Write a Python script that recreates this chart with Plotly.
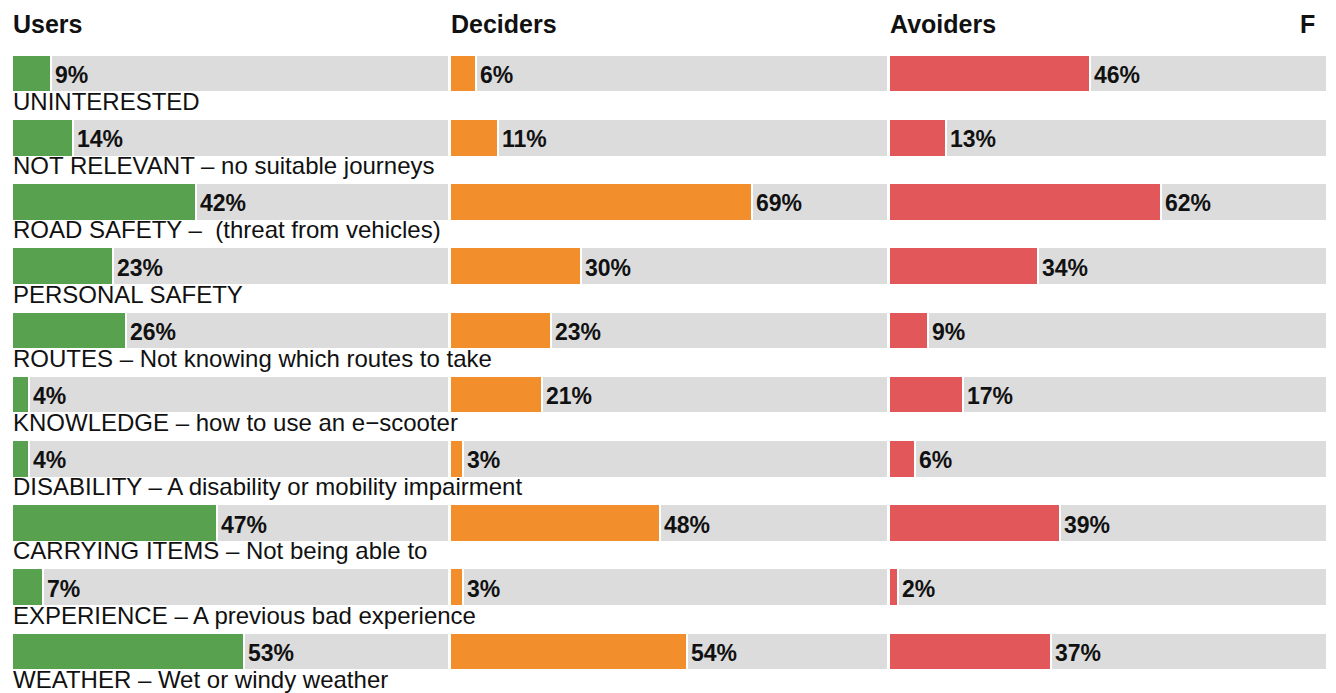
"""Reasons for not using e-scooters, by segment: three stacked-percentage panels."""

import plotly.graph_objects as go

# 데이터: 행 순서는 위에서 아래로
REASONS = [
    "UNINTERESTED",
    "NOT RELEVANT – no suitable journeys",
    "ROAD SAFETY –  (threat from vehicles)",
    "PERSONAL SAFETY",
    "ROUTES – Not knowing which routes to take",
    "KNOWLEDGE – how to use an e−scooter",
    "DISABILITY – A disability or mobility impairment",
    "CARRYING ITEMS – Not being able to",
    "EXPERIENCE – A previous bad experience",
    "WEATHER – Wet or windy weather",
]
SEGMENTS = ["Users", "Deciders", "Avoiders"]
USERS = [9, 14, 42, 23, 26, 4, 4, 47, 7, 53]
DECIDERS = [6, 11, 69, 30, 23, 21, 3, 48, 3, 54]
AVOIDERS = [46, 13, 62, 34, 9, 17, 6, 39, 2, 37]

COLORS = ["#58a14e", "#f28e2b", "#e1575a"]
TRACK = "#dcdcdc"
FONT = "Liberation Sans, Arial, Helvetica, sans-serif"

W, H = 1336, 693
ROW_TOP = 73.5      # px, centre of the first bar
ROW_PITCH = 64.22   # px between bars
PANELS = [(12, 449), (450, 888), (889, 1327)]  # px left/right of each panel

rows = list(range(len(REASONS)))
fig = go.Figure()

for k, (name, values) in enumerate(zip(SEGMENTS, [USERS, DECIDERS, AVOIDERS])):
    xa = "x" if k == 0 else f"x{k + 1}"
    fig.add_trace(go.Bar(
        x=values, y=rows, orientation="h", xaxis=xa, yaxis="y",
        width=0.585, marker=dict(color=COLORS[k], line=dict(color="white", width=2.5)),
        hoverinfo="skip", showlegend=False,
    ))
    fig.add_trace(go.Bar(
        x=[100 - v for v in values], y=rows, orientation="h", xaxis=xa, yaxis="y",
        width=0.585, marker=dict(color=TRACK, line=dict(color="white", width=2.5)),
        hoverinfo="skip", showlegend=False,
    ))
    # 퍼센트 라벨은 색 막대 끝 바로 오른쪽
    for i, v in zip(rows, values):
        fig.add_annotation(
            text=f"{v}%", xref=xa, yref="y", x=v, y=i, xshift=2, yshift=-1.5,
            xanchor="left", yanchor="middle", showarrow=False,
            font=dict(family=FONT, size=23, color="#111111", weight="bold"),
        )
    left, right = PANELS[k]
    axis = dict(domain=[left / W, right / W], range=[0, 100], visible=False, fixedrange=True)
    if k == 0:
        fig.update_layout(xaxis=axis)
    else:
        fig.update_layout(**{f"xaxis{k + 1}": dict(axis, anchor="y")})
    fig.add_annotation(
        text=name, xref="paper", yref="paper", x=(left - 1) / W, y=1 - 24 / H,
        xanchor="left", yanchor="middle", showarrow=False,
        font=dict(family=FONT, size=25, color="#111111", weight="bold"),
    )

# 네 번째 패널 제목이 오른쪽 가장자리에서 잘려 보인다
fig.add_annotation(
    text="F", xref="paper", yref="paper", x=1298 / W, y=1 - 24 / H,
    xanchor="left", yanchor="middle", showarrow=False,
    font=dict(family=FONT, size=25, color="#111111", weight="bold"),
)

for i, reason in enumerate(REASONS):
    fig.add_annotation(
        text=reason, xref="paper", yref="y", x=12 / W, y=i + 0.435,
        xanchor="left", yanchor="middle", showarrow=False, borderpad=0,
        font=dict(family=FONT, size=24, color="#111111"),
    )

y_top = -ROW_TOP / ROW_PITCH
y_bottom = (H - ROW_TOP) / ROW_PITCH
fig.update_layout(
    width=W, height=H,
    barmode="stack", bargap=0,
    margin=dict(l=0, r=0, t=0, b=0),
    paper_bgcolor="white", plot_bgcolor="white",
    yaxis=dict(range=[y_bottom, y_top], visible=False, fixedrange=True),
)

fig.write_html(
    "out.html",
    config={"displayModeBar": False},
    post_script="document.body.style.margin='0';document.body.style.overflow='hidden';",
)
